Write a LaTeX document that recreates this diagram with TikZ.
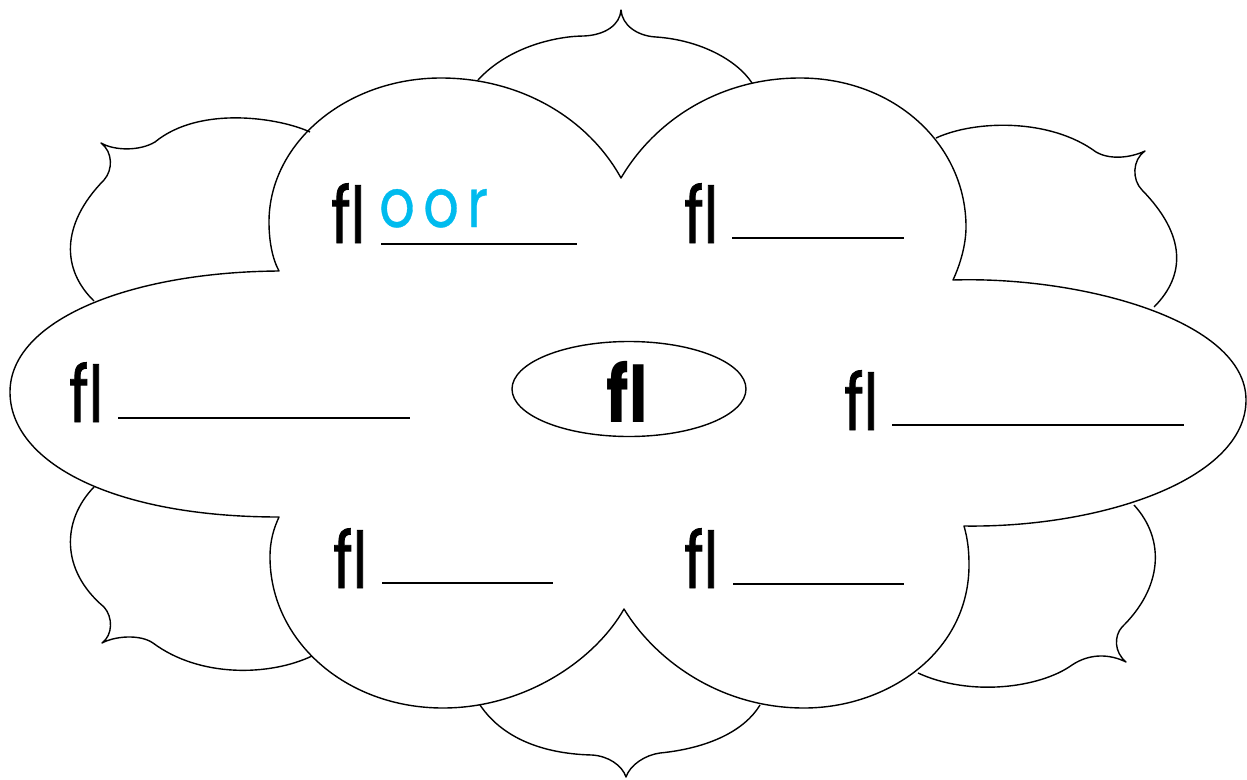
\documentclass[tikz,border=0pt]{standalone}
\usepackage{fontspec}
\usepackage{graphicx}
\usetikzlibrary{shapes.geometric}
\setmainfont{Poppins}
\newfontfamily\flfont[Ligatures=CommonOff]{Poppins}
\definecolor{inkblue}{RGB}{0,187,238}
\tikzset{
  outline/.style={draw=black, line width=1.4pt, line join=round},
  word/.style={inner sep=0pt, anchor=base west, font=\flfont\addfontfeature{FakeBold=1.2}\fontsize{78}{80}\selectfont},
  blank/.style={line width=2.6pt},
  answer/.style={inner sep=0pt, anchor=base west, text=inkblue, font=\flfont\fontsize{68}{70}\selectfont\addfontfeature{LetterSpace=15,FakeBold=0.6}},
}
\newcommand{\flw}{\scalebox{0.76}[1]{f\kern0pt l}}
\begin{document}
\begin{tikzpicture}[x=1pt,y=-1pt]
\useasboundingbox (0,0) rectangle (1247,779);
% back scalloped lobes
\draw[outline] (478,80) .. controls (510,45) and (560,36) .. (584,36)
  .. controls (605,35) and (620,25) .. (621,10)
  .. controls (622,25) and (637,36) .. (656,37)
  .. controls (700,40) and (737,60) .. (752,83);
\draw[outline] (310,132) .. controls (280,118) and (200,105) .. (155,142)
  .. controls (140,151) and (115,151) .. (101,143)
  .. controls (113,152) and (113,170) .. (104,180)
  .. controls (60,225) and (62,270) .. (94,301);
\draw[outline] (94,487) .. controls (62,520) and (60,570) .. (104,607)
  .. controls (113,617) and (113,635) .. (102,643)
  .. controls (115,636) and (140,634) .. (153,643)
  .. controls (200,678) and (270,676) .. (312,656);
\draw[outline] (480,705) .. controls (505,742) and (550,754) .. (592,755)
  .. controls (608,756) and (622,765) .. (626,777)
  .. controls (630,765) and (645,755) .. (660,753)
  .. controls (710,748) and (745,730) .. (760,705);
\draw[outline] (918,673) .. controls (970,697) and (1040,688) .. (1072,665)
  .. controls (1090,653) and (1110,654) .. (1126,662)
  .. controls (1114,652) and (1114,636) .. (1122,627)
  .. controls (1162,588) and (1166,540) .. (1134,505);
\draw[outline] (936,138) .. controls (975,120) and (1050,118) .. (1096,152)
  .. controls (1110,160) and (1130,158) .. (1145,151)
  .. controls (1132,160) and (1132,180) .. (1142,190)
  .. controls (1186,235) and (1186,275) .. (1154,307);
% front cloud
\draw[outline] (279,271) .. controls (272,258) and (269,240) .. (269,222)
  .. controls (269,143) and (346,78) .. (441,78)
  .. controls (520,78) and (588,118) .. (621,178)
  .. controls (655,120) and (720,78) .. (800,78)
  .. controls (895,78) and (966,145) .. (966,227)
  .. controls (966,245) and (960,265) .. (953,280)
  .. controls (1080,276) and (1246,320) .. (1246,400)
  .. controls (1246,480) and (1100,528) .. (964,526)
  .. controls (968,540) and (969,552) .. (969,565)
  .. controls (969,652) and (888,708) .. (804,708)
  .. controls (720,708) and (655,660) .. (624,609)
  .. controls (595,660) and (525,708) .. (443,708)
  .. controls (345,708) and (270,640) .. (270,557)
  .. controls (270,540) and (274,528) .. (279,517)
  .. controls (112,517) and (10,462) .. (10,392)
  .. controls (10,320) and (130,272) .. cycle;
% centre
\node[ellipse, outline, minimum width=234pt, minimum height=95pt, inner sep=0pt] (hub) at (629,389) {};
\node[inner sep=0pt, font=\flfont\bfseries\fontsize{78}{80}\selectfont, anchor=base] (hubtxt) at (627,422) {\scalebox{0.8}[1]{f\kern0pt l}};
% words
\node[word] (w1) at (331,243) {\flw};
\node[answer] (a1) at (379,227) {\scalebox{0.82}[1]{oor}};
\draw[blank] (381,244) -- (577,244);
\node[word] (w2) at (684,243) {\flw};
\draw[blank] (732,238) -- (904,238);
\node[word] (w3) at (69,422) {\flw};
\draw[blank] (118,418) -- (410,418);
\node[word] (w4) at (844,430) {\flw};
\draw[blank] (892,425) -- (1184,425);
\node[word] (w5) at (333,588) {\flw};
\draw[blank] (382,583) -- (553,583);
\node[word] (w6) at (684,588) {\flw};
\draw[blank] (733,584) -- (904,584);
\end{tikzpicture}
\end{document}
